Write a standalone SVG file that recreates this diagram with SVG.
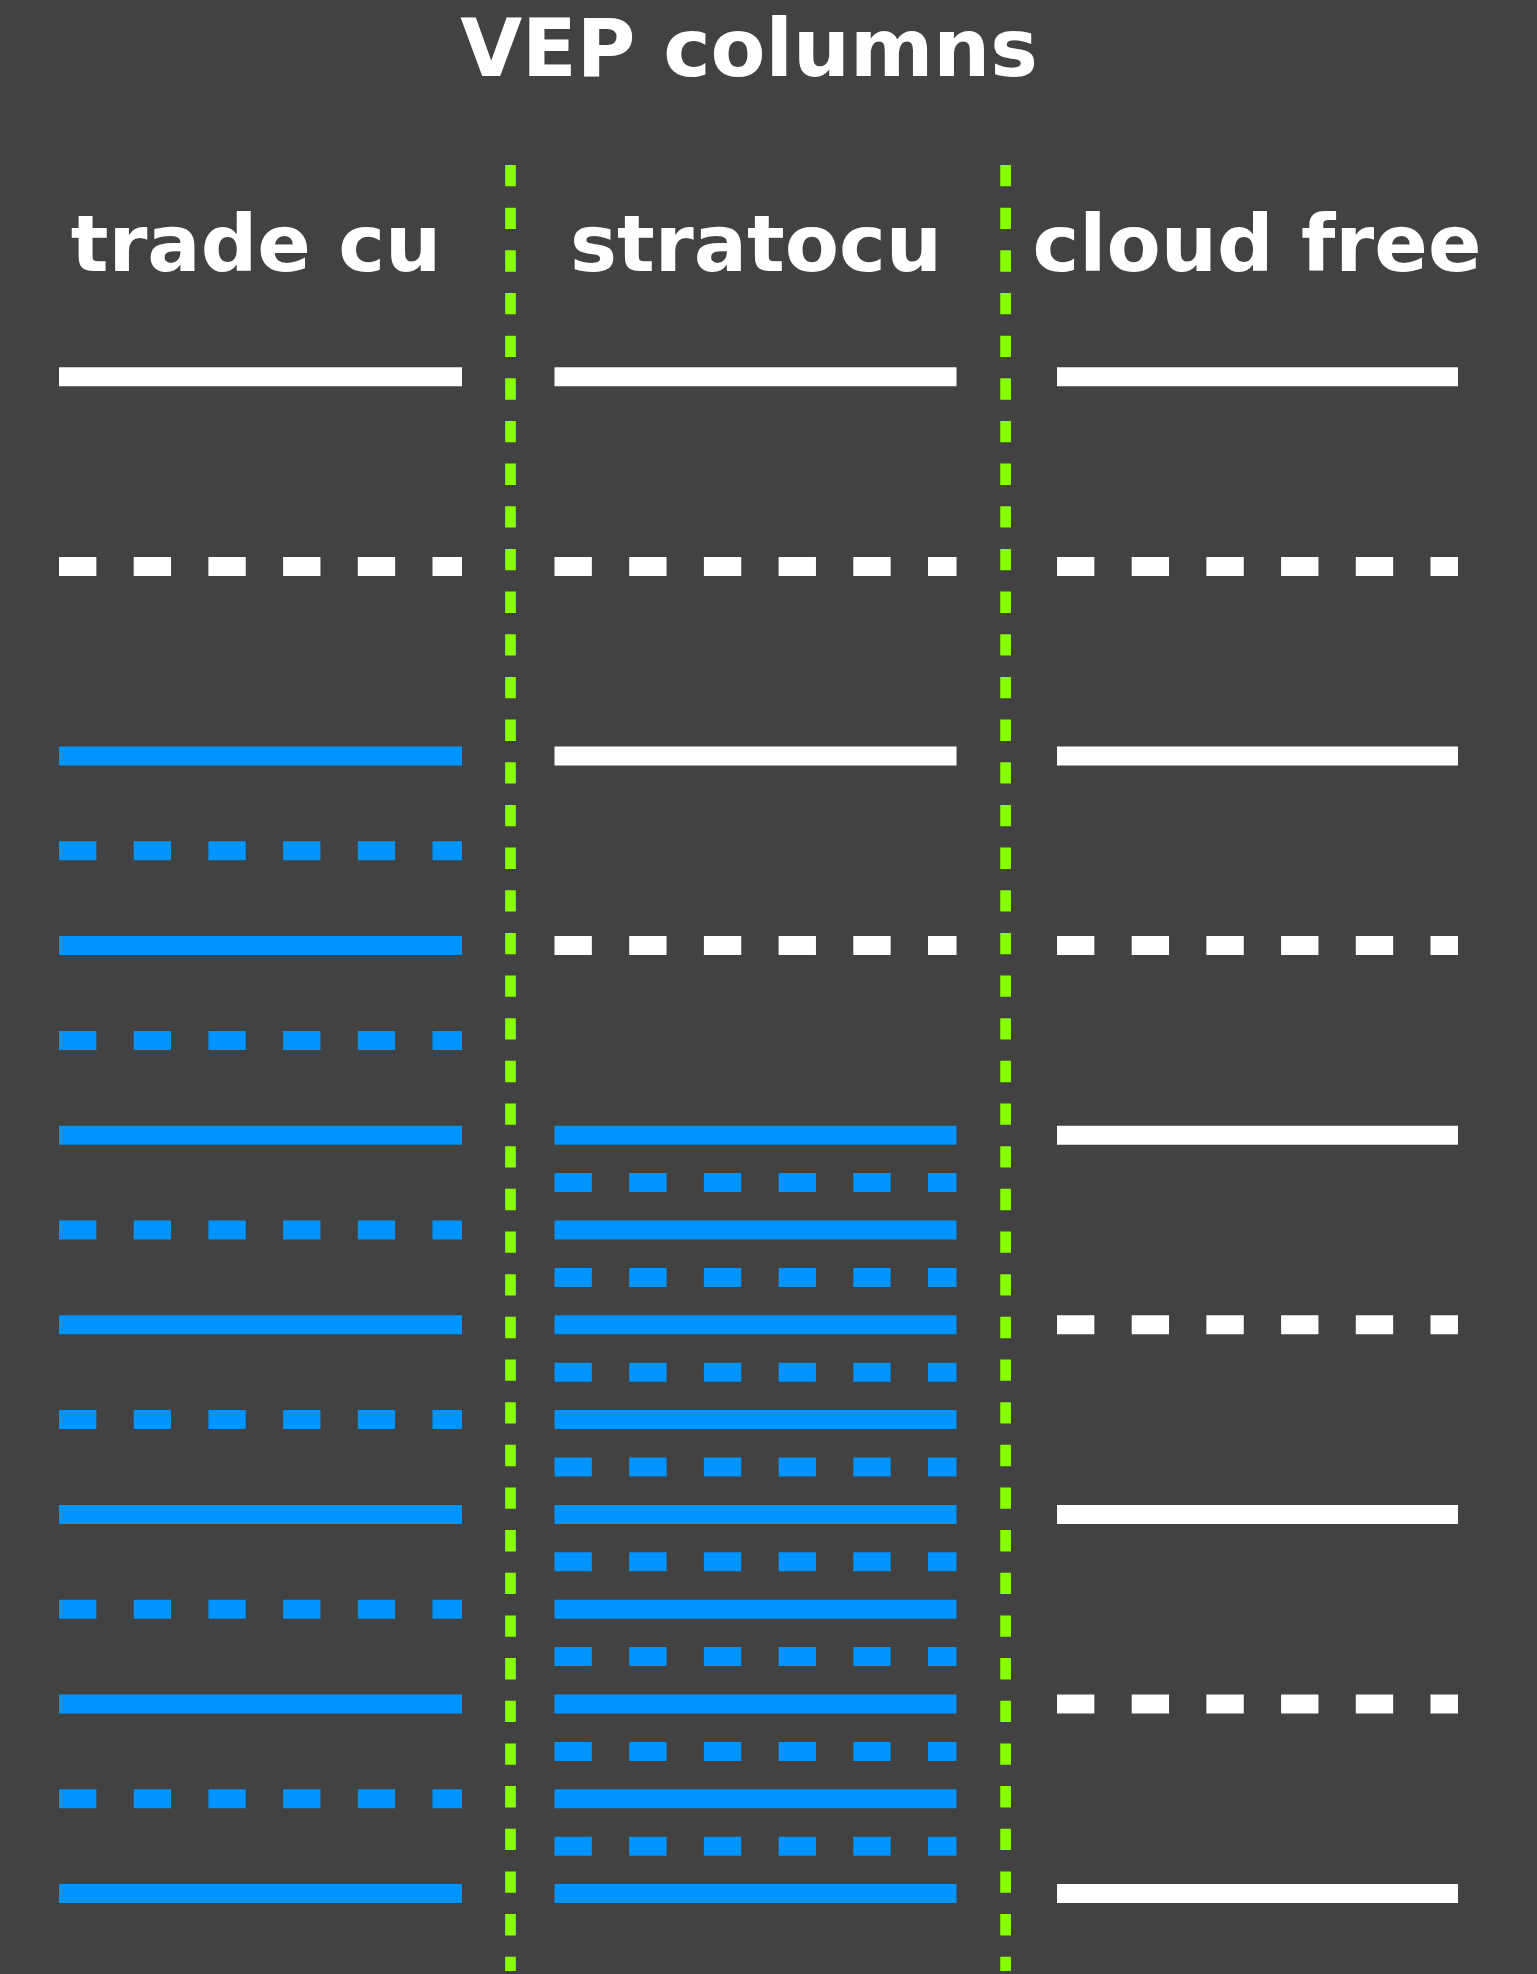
<svg xmlns="http://www.w3.org/2000/svg" width="1537" height="1974" viewBox="0 0 1537 1974">
  <style>
    .title { font-family: "DejaVu Sans", Verdana, sans-serif; font-weight: bold; font-size: 80px; fill: #ffffff; text-anchor: middle; }
    .head { font-family: "DejaVu Sans", Verdana, sans-serif; font-weight: bold; font-size: 79px; fill: #ffffff; text-anchor: middle; }
    .w { stroke: #ffffff; stroke-width: 19; fill: none; }
    .b { stroke: #0094ff; stroke-width: 19; fill: none; }
    .dash { stroke-dasharray: 37.35 37.35; }
    .sep { stroke: #88ff00; stroke-width: 10.7; stroke-dasharray: 21.33 21.33; fill: none; }
  </style>
  <rect x="0" y="0" width="1537" height="1974" fill="#424242"/>

  <text class="title" x="749" y="76">VEP columns</text>

  <!-- column separators -->
  <g id="separators">
    <line class="sep" x1="510.5" y1="165" x2="510.5" y2="1971"/>
    <line class="sep" x1="1005.6" y1="165" x2="1005.6" y2="1971"/>
  </g>

  <!-- left column: trade cumulus -->
  <g id="col-trade-cu">
    <text class="head" x="256" y="271">trade cu</text>
    <line class="w" x1="59" y1="376.8" x2="462" y2="376.8"/>
    <line class="w dash" x1="59" y1="566.4" x2="462" y2="566.4"/>
    <line class="b" x1="59" y1="756.0" x2="462" y2="756.0"/>
    <line class="b dash" x1="59" y1="850.8" x2="462" y2="850.8"/>
    <line class="b" x1="59" y1="945.6" x2="462" y2="945.6"/>
    <line class="b dash" x1="59" y1="1040.4" x2="462" y2="1040.4"/>
    <line class="b" x1="59" y1="1135.2" x2="462" y2="1135.2"/>
    <line class="b dash" x1="59" y1="1230.0" x2="462" y2="1230.0"/>
    <line class="b" x1="59" y1="1324.8" x2="462" y2="1324.8"/>
    <line class="b dash" x1="59" y1="1419.6" x2="462" y2="1419.6"/>
    <line class="b" x1="59" y1="1514.4" x2="462" y2="1514.4"/>
    <line class="b dash" x1="59" y1="1609.2" x2="462" y2="1609.2"/>
    <line class="b" x1="59" y1="1704.0" x2="462" y2="1704.0"/>
    <line class="b dash" x1="59" y1="1798.8" x2="462" y2="1798.8"/>
    <line class="b" x1="59" y1="1893.6" x2="462" y2="1893.6"/>
  </g>

  <!-- middle column: stratocumulus -->
  <g id="col-stratocu">
    <text class="head" x="756" y="271">stratocu</text>
    <line class="w" x1="554.5" y1="376.8" x2="956.5" y2="376.8"/>
    <line class="w dash" x1="554.5" y1="566.4" x2="956.5" y2="566.4"/>
    <line class="w" x1="554.5" y1="756.0" x2="956.5" y2="756.0"/>
    <line class="w dash" x1="554.5" y1="945.6" x2="956.5" y2="945.6"/>
    <line class="b" x1="554.5" y1="1135.2" x2="956.5" y2="1135.2"/>
    <line class="b dash" x1="554.5" y1="1182.6" x2="956.5" y2="1182.6"/>
    <line class="b" x1="554.5" y1="1230.0" x2="956.5" y2="1230.0"/>
    <line class="b dash" x1="554.5" y1="1277.4" x2="956.5" y2="1277.4"/>
    <line class="b" x1="554.5" y1="1324.8" x2="956.5" y2="1324.8"/>
    <line class="b dash" x1="554.5" y1="1372.2" x2="956.5" y2="1372.2"/>
    <line class="b" x1="554.5" y1="1419.6" x2="956.5" y2="1419.6"/>
    <line class="b dash" x1="554.5" y1="1467.0" x2="956.5" y2="1467.0"/>
    <line class="b" x1="554.5" y1="1514.4" x2="956.5" y2="1514.4"/>
    <line class="b dash" x1="554.5" y1="1561.8" x2="956.5" y2="1561.8"/>
    <line class="b" x1="554.5" y1="1609.2" x2="956.5" y2="1609.2"/>
    <line class="b dash" x1="554.5" y1="1656.6" x2="956.5" y2="1656.6"/>
    <line class="b" x1="554.5" y1="1704.0" x2="956.5" y2="1704.0"/>
    <line class="b dash" x1="554.5" y1="1751.4" x2="956.5" y2="1751.4"/>
    <line class="b" x1="554.5" y1="1798.8" x2="956.5" y2="1798.8"/>
    <line class="b dash" x1="554.5" y1="1846.2" x2="956.5" y2="1846.2"/>
    <line class="b" x1="554.5" y1="1893.6" x2="956.5" y2="1893.6"/>
  </g>

  <!-- right column: cloud free -->
  <g id="col-cloud-free">
    <text class="head" x="1257" y="271">cloud free</text>
    <line class="w" x1="1057" y1="376.8" x2="1458" y2="376.8"/>
    <line class="w dash" x1="1057" y1="566.4" x2="1458" y2="566.4"/>
    <line class="w" x1="1057" y1="756.0" x2="1458" y2="756.0"/>
    <line class="w dash" x1="1057" y1="945.6" x2="1458" y2="945.6"/>
    <line class="w" x1="1057" y1="1135.2" x2="1458" y2="1135.2"/>
    <line class="w dash" x1="1057" y1="1324.8" x2="1458" y2="1324.8"/>
    <line class="w" x1="1057" y1="1514.4" x2="1458" y2="1514.4"/>
    <line class="w dash" x1="1057" y1="1704.0" x2="1458" y2="1704.0"/>
    <line class="w" x1="1057" y1="1893.6" x2="1458" y2="1893.6"/>
  </g>
</svg>
